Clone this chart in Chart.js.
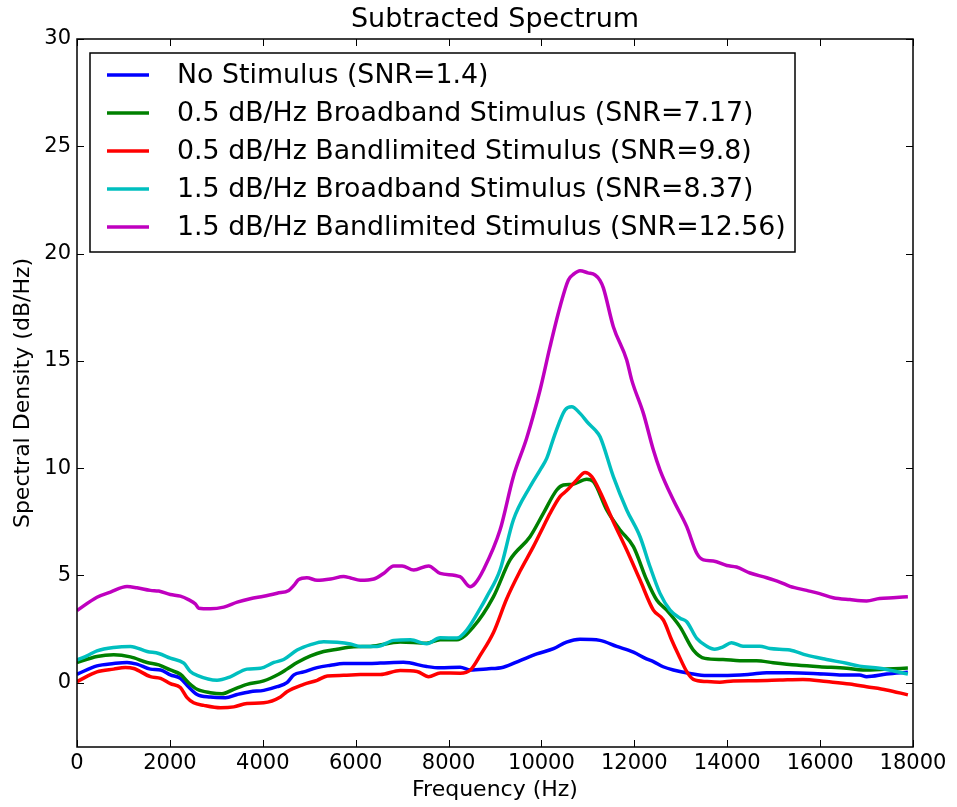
<!DOCTYPE html>
<html>
<head>
<meta charset="utf-8">
<script src="https://cdn.jsdelivr.net/npm/chart.js@4.4.0/dist/chart.umd.min.js"></script>
<style>
  body { margin: 0; background: #fff; }
  #wrap { width: 957px; height: 807px; }
</style>
</head>
<body>
<div id="wrap"><canvas id="chart1" width="957" height="807"></canvas></div>
<script>
// tick labels
const xTicks = [0, 2000, 4000, 6000, 8000, 10000, 12000, 14000, 16000, 18000];
const yTicks = [0, 5, 10, 15, 20, 25, 30];

const chartTitle = 'Subtracted Spectrum';
const seriesLabels = [
  'No Stimulus (SNR=1.4)',
  '0.5 dB/Hz Broadband Stimulus (SNR=7.17)',
  '0.5 dB/Hz Bandlimited Stimulus (SNR=9.8)',
  '1.5 dB/Hz Broadband Stimulus (SNR=8.37)',
  '1.5 dB/Hz Bandlimited Stimulus (SNR=12.56)'
];

// No stimulus
const blueHz = [0, 430, 790, 1077, 1290, 1580, 1800, 2010, 2225, 2400, 2585, 2870, 3195, 3450, 3730, 4020, 4310, 4520, 4670, 4880, 5170, 5460, 5740, 6100, 6530, 7030, 7530, 7820, 8250, 8470, 8820, 9180, 9540, 9900, 10260, 10540, 10830, 11260, 11620, 11980, 12260, 12410, 12620, 12840, 13200, 13560, 13910, 14490, 14850, 15350, 15850, 16420, 16850, 17000, 17430, 17890];
const blueDb = [0.39, 0.78, 0.89, 0.94, 0.86, 0.63, 0.59, 0.36, 0.20, -0.19, -0.55, -0.67, -0.70, -0.55, -0.42, -0.36, -0.19, 0, 0.36, 0.50, 0.70, 0.81, 0.89, 0.89, 0.91, 0.95, 0.75, 0.69, 0.72, 0.59, 0.64, 0.72, 1.03, 1.34, 1.58, 1.89, 2.02, 1.97, 1.69, 1.42, 1.11, 0.98, 0.74, 0.59, 0.43, 0.33, 0.33, 0.39, 0.46, 0.46, 0.43, 0.36, 0.36, 0.28, 0.40, 0.48];

// 0.5 dB/Hz broadband
const greenHz = [0, 430, 790, 1150, 1510, 1760, 2010, 2225, 2400, 2585, 2870, 3120, 3375, 3660, 4020, 4340, 4520, 4740, 5030, 5310, 5600, 5960, 6320, 6960, 7530, 7820, 8180, 8534, 8965, 9324, 9754, 10041, 10329, 10472, 10680, 10975, 11118, 11406, 11693, 11980, 12267, 12482, 12697, 12984, 13270, 13520, 13910, 14270, 14630, 14990, 15490, 15990, 16570, 16920, 17430, 17890];
const greenDb = [0.94, 1.22, 1.30, 1.20, 0.94, 0.83, 0.59, 0.39, 0, -0.31, -0.47, -0.52, -0.31, -0.08, 0.08, 0.39, 0.63, 0.94, 1.25, 1.45, 1.56, 1.67, 1.69, 1.89, 1.84, 2.0, 2.0, 2.6, 4.0, 5.72, 6.8, 7.89, 8.98, 9.21, 9.25, 9.48, 9.37, 8.05, 7.11, 6.34, 4.78, 3.85, 3.38, 2.6, 1.52, 1.13, 1.08, 1.02, 1.02, 0.93, 0.82, 0.74, 0.67, 0.59, 0.63, 0.68];

// 0.5 dB/Hz bandlimited
const redHz = [0, 430, 790, 1040, 1220, 1580, 1800, 2010, 2225, 2370, 2510, 2730, 3090, 3375, 3660, 4020, 4380, 4520, 4880, 5170, 5390, 5740, 6100, 6530, 6960, 7320, 7570, 7820, 8250, 8470, 8680, 8970, 9250, 9540, 9826, 10041, 10185, 10400, 10544, 10760, 10939, 11083, 11262, 11548, 11836, 12123, 12410, 12625, 12804, 12950, 13130, 13270, 13560, 13840, 14130, 14630, 15130, 15630, 16140, 16640, 17000, 17430, 17890];
const redDb = [0.05, 0.50, 0.63, 0.70, 0.66, 0.28, 0.20, -0.05, -0.23, -0.70, -0.94, -1.06, -1.17, -1.13, -0.97, -0.94, -0.67, -0.42, -0.08, 0.11, 0.31, 0.34, 0.38, 0.38, 0.56, 0.52, 0.28, 0.45, 0.44, 0.59, 1.27, 2.35, 3.9, 5.2, 6.34, 7.27, 7.89, 8.67, 8.95, 9.45, 9.79, 9.60, 8.9, 7.5, 6.18, 4.78, 3.38, 2.92, 1.99, 1.3, 0.51, 0.15, 0.05, 0.02, 0.08, 0.09, 0.12, 0.15, 0.05, -0.06, -0.19, -0.34, -0.57];

// 1.5 dB/Hz broadband
const cyanHz = [0, 215, 430, 790, 1150, 1510, 1760, 2010, 2300, 2440, 2585, 3015, 3300, 3660, 3950, 4240, 4450, 4740, 5030, 5310, 5600, 5890, 6100, 6460, 6820, 7180, 7530, 7820, 8180, 8391, 8680, 8822, 9108, 9395, 9754, 9970, 10113, 10293, 10508, 10652, 10831, 11010, 11154, 11262, 11548, 11836, 12123, 12338, 12553, 12769, 12984, 13128, 13344, 13560, 13730, 13910, 14090, 14340, 14700, 14920, 15350, 15710, 16140, 16570, 16850, 17280, 17890];
const cyanDb = [1.05, 1.25, 1.48, 1.64, 1.69, 1.45, 1.36, 1.14, 0.91, 0.52, 0.34, 0.11, 0.27, 0.63, 0.67, 0.94, 1.08, 1.52, 1.77, 1.91, 1.88, 1.80, 1.69, 1.69, 1.97, 2.0, 1.81, 2.09, 2.08, 2.45, 3.45, 4.0, 5.25, 7.58, 9.13, 9.91, 10.45, 11.6, 12.71, 12.86, 12.55, 12.09, 11.78, 11.46, 9.6, 8.05, 6.8, 5.4, 4.16, 3.38, 3.0, 2.84, 2.06, 1.70, 1.56, 1.67, 1.86, 1.70, 1.70, 1.59, 1.52, 1.28, 1.08, 0.90, 0.77, 0.67, 0.40];

// 1.5 dB/Hz bandlimited
const magentaHz = [0, 430, 720, 1077, 1290, 1580, 1760, 2010, 2225, 2400, 2550, 2620, 2870, 3160, 3450, 3730, 4020, 4310, 4560, 4670, 4770, 4950, 5170, 5460, 5740, 5890, 6100, 6390, 6600, 6820, 7000, 7250, 7570, 7820, 8247, 8462, 8570, 8749, 9108, 9395, 9683, 9970, 10185, 10400, 10580, 10700, 10830, 11000, 11155, 11260, 11333, 11548, 11836, 11944, 12195, 12410, 12553, 12840, 13128, 13344, 13487, 13700, 13990, 14200, 14490, 14850, 15130, 15350, 15710, 15990, 16280, 16640, 17000, 17280, 17570, 17890];
const magentaDb = [3.36, 3.98, 4.22, 4.48, 4.42, 4.30, 4.27, 4.11, 4.03, 3.87, 3.67, 3.47, 3.44, 3.52, 3.75, 3.91, 4.03, 4.17, 4.30, 4.53, 4.80, 4.89, 4.77, 4.83, 4.95, 4.88, 4.77, 4.83, 5.09, 5.44, 5.44, 5.25, 5.44, 5.09, 4.94, 4.47, 4.62, 5.25, 7.11, 9.6, 11.4, 13.64, 15.66, 17.52, 18.77, 19.05, 19.2, 19.1, 19.0, 18.75, 18.4, 16.59, 15.04, 14.1, 12.55, 10.84, 9.91, 8.51, 7.27, 6.03, 5.72, 5.67, 5.46, 5.39, 5.11, 4.89, 4.69, 4.49, 4.30, 4.15, 3.96, 3.87, 3.81, 3.92, 3.96, 4.0];

const colors = ['#0000ff', '#008000', '#ff0000', '#00bfbf', '#bf00bf'];

function pts(hz, db) {
  return hz.map((f, i) => ({ x: f, y: db[i] }));
}

const frameAndTicks = {
  id: 'frameAndTicks',
  afterDraw(chart) {
    const { ctx, chartArea: a, scales: { x, y } } = chart;
    ctx.save();
    ctx.strokeStyle = '#000';
    ctx.lineWidth = 1;
    ctx.beginPath();
    xTicks.forEach(v => {
      const px = Math.round(x.getPixelForValue(v)) + 0.5;
      ctx.moveTo(px, a.bottom); ctx.lineTo(px, a.bottom - 7);
      ctx.moveTo(px, a.top); ctx.lineTo(px, a.top + 7);
    });
    yTicks.forEach(v => {
      const py = Math.round(y.getPixelForValue(v)) + 0.5;
      ctx.moveTo(a.left, py); ctx.lineTo(a.left + 7, py);
      ctx.moveTo(a.right, py); ctx.lineTo(a.right - 7, py);
    });
    ctx.stroke();
    ctx.lineWidth = 1.5;
    ctx.strokeRect(a.left, a.top, a.right - a.left, a.bottom - a.top);

    // title centred over the axes
    ctx.fillStyle = '#000';
    ctx.font = '27px "DejaVu Sans"';
    ctx.textAlign = 'center';
    ctx.textBaseline = 'middle';
    ctx.fillText(chartTitle, (a.left + a.right) / 2, 20);

    // legend box inside the axes, upper left
    const bx = 90, by = 53, bw = 705, bh = 199;
    ctx.fillStyle = '#fff';
    ctx.fillRect(bx, by, bw, bh);
    ctx.strokeRect(bx, by, bw, bh);
    ctx.font = '26.8px "DejaVu Sans"';
    ctx.textAlign = 'left';
    chart.data.datasets.forEach((ds, i) => {
      const ry = 75 + i * 38;
      ctx.strokeStyle = ds.borderColor;
      ctx.lineWidth = 3.5;
      ctx.beginPath();
      ctx.moveTo(107, ry); ctx.lineTo(149, ry);
      ctx.stroke();
      ctx.fillStyle = '#000';
      ctx.fillText(ds.label, 177, ry + 1);
    });
    ctx.restore();
  }
};

const allHz = [blueHz, greenHz, redHz, cyanHz, magentaHz];
const allDb = [blueDb, greenDb, redDb, cyanDb, magentaDb];

new Chart(document.getElementById('chart1'), {
  type: 'line',
  data: {
    datasets: seriesLabels.map((label, i) => ({
      label: label,
      data: pts(allHz[i], allDb[i]),
      borderColor: colors[i],
      backgroundColor: colors[i],
      borderWidth: 3.5,
      pointRadius: 0,
      cubicInterpolationMode: 'monotone',
      order: 5 - i
    }))
  },
  options: {
    responsive: false,
    animation: false,
    devicePixelRatio: 1,
    layout: { padding: { left: 0, right: 44, top: 39, bottom: 0 } },
    plugins: {
      legend: { display: false },
      tooltip: { enabled: false },
      title: { display: false }
    },
    scales: {
      x: {
        type: 'linear',
        min: 0,
        max: 18000,
        grid: { display: false, drawTicks: false },
        border: { display: false },
        afterBuildTicks: s => { s.ticks = xTicks.map(v => ({ value: v })); },
        afterFit: s => { s.height = 60; },
        ticks: {
          color: '#000',
          padding: 4,
          maxRotation: 0,
          font: { family: 'DejaVu Sans', size: 21 },
          callback: v => String(v)
        },
        title: {
          display: true,
          text: 'Frequency (Hz)',
          color: '#000',
          font: { family: 'DejaVu Sans', size: 22 },
          padding: { top: 0, bottom: 4 }
        }
      },
      y: {
        min: -3,
        max: 30,
        grid: { display: false, drawTicks: false },
        border: { display: false },
        afterBuildTicks: s => { s.ticks = yTicks.map(v => ({ value: v })); },
        afterFit: s => { s.width = 77; },
        ticks: {
          color: '#000',
          padding: 6,
          font: { family: 'DejaVu Sans', size: 21 },
          callback: v => String(v)
        },
        title: {
          display: true,
          text: 'Spectral Density (dB/Hz)',
          color: '#000',
          font: { family: 'DejaVu Sans', size: 22 },
          padding: { top: 10, bottom: 0 }
        }
      }
    }
  },
  plugins: [frameAndTicks]
});
</script>
</body>
</html>
